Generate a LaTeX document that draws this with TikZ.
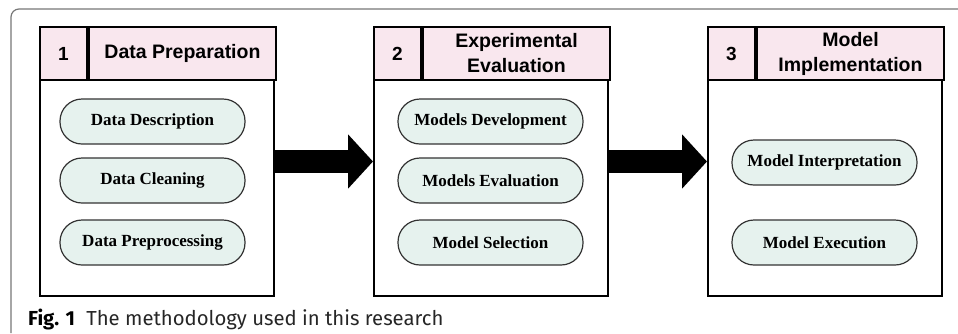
\documentclass[tikz,border=0pt]{standalone}
\usepackage{fontspec}
\usepackage{tikz}
\usetikzlibrary{positioning,arrows.meta}

\newfontfamily\headfont{Liberation Sans}
\newfontfamily\pillfont{Liberation Serif}
\newfontfamily\capfont{Fira Sans}
\definecolor{headpink}{HTML}{F9E7EE}
\definecolor{pillgreen}{HTML}{E6F2EE}
\definecolor{framegray}{HTML}{777777}

\begin{document}
\begin{tikzpicture}[x=1pt, y=-1pt, node distance=334pt]
  \useasboundingbox (0,0) rectangle (958,333);

  \tikzset{stage/.style={draw, line width=2pt, minimum width=234pt, minimum height=269pt, inner sep=0pt}}
  \tikzset{numcell/.style={draw, line width=2pt, fill=headpink, anchor=north west, inner sep=0pt,
      minimum width=47pt, minimum height=53pt, font=\headfont\bfseries\fontsize{19}{21}\selectfont}}
  \tikzset{titlecell/.style={numcell, minimum width=187pt, align=center,
      font=\headfont\bfseries\fontsize{19.5}{25}\selectfont}}
  \tikzset{task/.style={draw=black!80, line width=1.2pt, fill=pillgreen, rounded corners=22pt,
      minimum width=185pt, minimum height=45pt, inner sep=0pt,
      font=\pillfont\bfseries\fontsize{17}{19}\selectfont}}
  \tikzset{bigarrow/.style={line width=23pt, -{Triangle[width=53pt, length=25pt]}}}

  % figure frame
  \draw[framegray, line width=1.2pt, rounded corners=8pt] (11,333) -- (11,9) -- (958,9);

  % the three stages
  \node[stage] (s1) at (157,161.5) {};
  \node[stage] (s2) [right of=s1] {};
  \node[stage] (s3) [right of=s2] {};

  \node[numcell] (n1) at (s1.north west) {1};
  \node[titlecell] (t1) at (n1.north east) {Data Preparation};
  \node[numcell] (n2) at (s2.north west) {2};
  \node[titlecell] (t2) at (n2.north east) {Experimental\\Evaluation};
  \node[numcell] (n3) at (s3.north west) {3};
  \node[titlecell] (t3) at (n3.north east) {Model\\Implementation};

  % tasks
  \node[task] (a1) at (152.5,121.5) {Data Description};
  \node[task] (a2) at (152.5,180.5) {Data Cleaning};
  \node[task] (a3) at (152.5,242.5) {Data Preprocessing};

  \node[task] (b1) at (490.5,121.5) {Models Development};
  \node[task] (b2) at (490.5,180.5) {Models Evaluation};
  \node[task] (b3) at (490.5,242.5) {Model Selection};

  \node[task] (c1) at (824.5,162.5) {Model Interpretation};
  \node[task] (c2) at (824.5,242.5) {Model Execution};

  \draw[bigarrow] (s1.east) -- (s2.west);
  \draw[bigarrow] (s2.east) -- (s3.west);

  \node[anchor=base west, inner sep=0pt, text=black!85, font=\capfont\fontsize{20.3}{22}\selectfont] (caption)
    at (28,325) {\textbf{\color{black}Fig. 1}\hspace{0.55em}The methodology used in this research};
\end{tikzpicture}
\end{document}
